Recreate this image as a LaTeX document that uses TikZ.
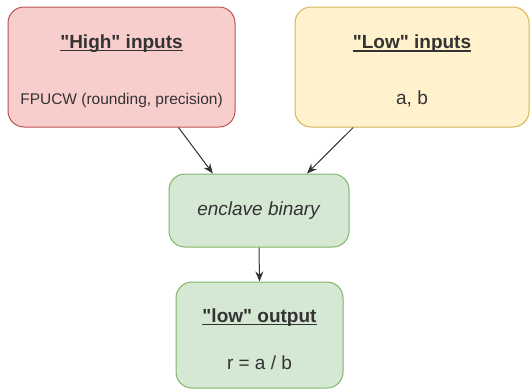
\documentclass[tikz,border=0pt]{standalone}
\usepackage{fontspec}
\setmainfont{Liberation Sans}
\usepackage{tikz}
\usetikzlibrary{arrows.meta,positioning,calc}
\definecolor{highfill}{HTML}{F8CECC}
\definecolor{highdraw}{HTML}{B85450}
\definecolor{lowfill}{HTML}{FFF2CC}
\definecolor{lowdraw}{HTML}{D6B656}
\definecolor{encfill}{HTML}{D5E8D4}
\definecolor{encdraw}{HTML}{82B366}
\definecolor{darktext}{HTML}{333333}
\newcommand{\boxtitle}[1]{\setbox0\hbox{\textbf{#1}}\rule{0pt}{22pt}\rlap{\raisebox{-3pt}{\rule{\wd0}{1.3pt}}}\box0}
\newcommand{\bodysmall}{\fontsize{15.5}{18}\selectfont}

\begin{document}
\begin{tikzpicture}[
    x=1pt, y=1pt,
    >={Stealth[length=10pt,width=8pt]},
    font=\fontsize{19}{22}\selectfont,
    box/.style={draw, rounded corners=16pt, line width=1pt, align=center, text=darktext, inner sep=0pt},
    highbox/.style={box, fill=highfill, draw=highdraw},
    lowbox/.style={box, fill=lowfill, draw=lowdraw},
    encbox/.style={box, fill=encfill, draw=encdraw},
    flow/.style={->, line width=1pt, draw=darktext},
]
\useasboundingbox (0,0) rectangle (531,-389);

% === Inputs ===
\node[highbox, minimum width=227pt, minimum height=120pt] (high) at (121.5,-67) {\boxtitle{\textquotedbl High\textquotedbl{} inputs}\\[34pt]{\bodysmall FPUCW (rounding, precision)}};
\node[lowbox, minimum width=234pt, minimum height=120pt] (low) at (412,-67) {\boxtitle{\textquotedbl Low\textquotedbl{} inputs}\\[34pt]a, b};

% === Enclave ===
\node[encbox, minimum width=180pt, minimum height=73pt] (enclave) at (259,-210.5) {\textit{enclave binary}};

% === Output ===
\node[encbox, minimum width=167pt, minimum height=106pt] (output) at (259.5,-335) {\boxtitle{\textquotedbl low\textquotedbl{} output}\\[25pt]r = a / b};

% Inputs to enclave
\draw[flow] ($(high.south west)!0.75!(high.south east)$) -- ($(enclave.north west)!0.245!(enclave.north east)$);
\draw[flow] ($(low.south west)!0.25!(low.south east)$) -- ($(enclave.north west)!0.765!(enclave.north east)$);

% Enclave to output
\draw[flow] (enclave.south) -- (output.north);

\end{tikzpicture}
\end{document}
